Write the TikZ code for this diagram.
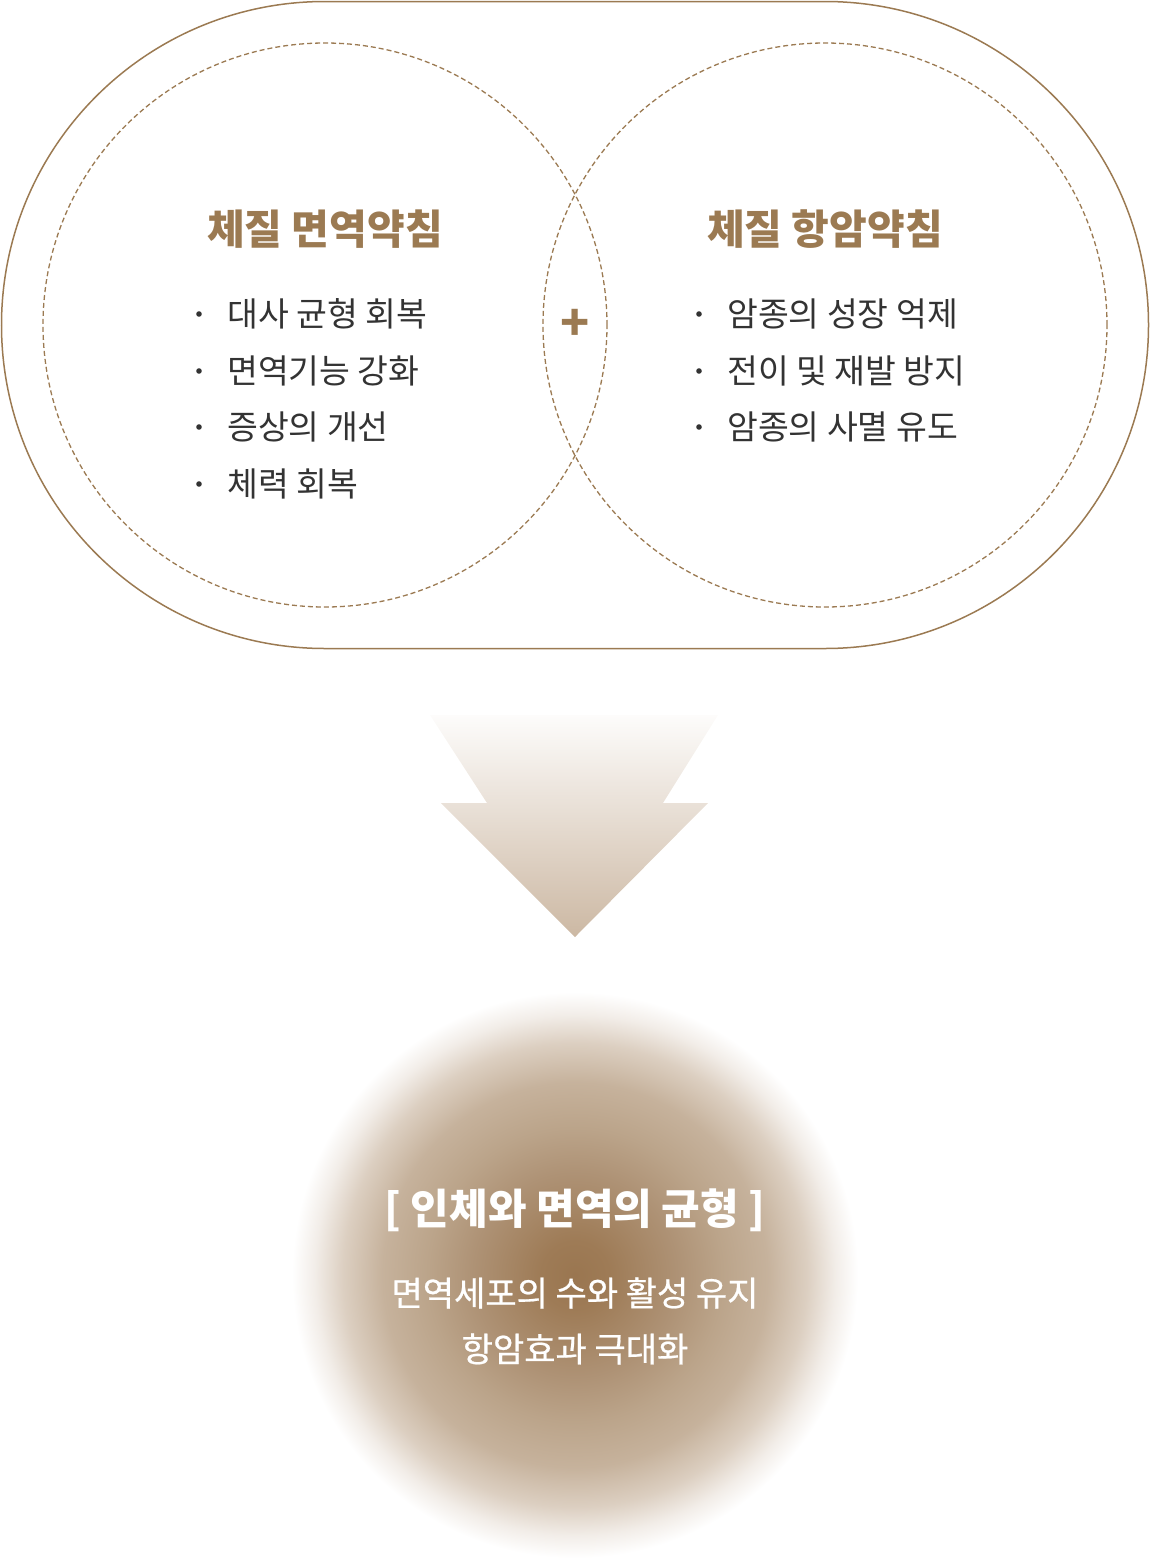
\documentclass[tikz,border=0pt]{standalone}
\usepackage{fontspec}
\setmainfont{Noto Sans CJK KR}
\newfontfamily\medfont[FakeBold=0.6]{Noto Sans CJK KR}
\usetikzlibrary{shapes.geometric}
\definecolor{brown1}{HTML}{9B7A52}
\definecolor{txtgray}{HTML}{333333}
\definecolor{arrtop}{HTML}{FDFCFB}
\definecolor{arrbot}{HTML}{CCB8A3}
\definecolor{glowA}{HTML}{9A7650}
\definecolor{glowB}{HTML}{9E7B56}
\definecolor{glowC}{HTML}{AE9275}
\definecolor{glowD}{HTML}{BBA48A}
\definecolor{glowE}{HTML}{C6B29C}
\definecolor{glowF}{HTML}{DCCFC1}
\definecolor{glowG}{HTML}{F2EDE8}
\pgfdeclareradialshading{glow}{\pgfpoint{0bp}{0bp}}{color(0bp)=(glowA); color(3bp)=(glowB); color(9bp)=(glowC); color(13bp)=(glowD); color(17bp)=(glowE); color(20.5bp)=(glowF); color(23bp)=(glowG); color(25bp)=(white); color(50bp)=(white)}
\tikzset{
  title/.style={font=\fontsize{41}{45}\selectfont\bfseries, text=brown1, inner sep=0pt},
  item/.style={font=\fontsize{33.5}{37}\selectfont, text=txtgray, anchor=west, inner sep=0pt},
  dot/.style={fill=txtgray, draw=none},
  dashcirc/.style={draw=brown1, line width=1.3pt, dash pattern=on 5pt off 3pt},
  wtitle/.style={font=\fontsize{42}{46}\selectfont\bfseries, text=white, inner sep=0pt},
  wline/.style={font=\fontsize{34}{38}\selectfont\medfont, text=white, inner sep=0pt},
}
\begin{document}
\begin{tikzpicture}[x=1pt,y=-1pt]
\useasboundingbox (0,0) rectangle (1150,1558);
% outer stadium
\draw[brown1, line width=1.5pt, rounded corners=323.5pt] (1.5,1.5) rectangle (1148.5,648.5);
% dashed circles
\draw[dashcirc] (325,325) circle (282pt);
\draw[dashcirc] (825,325) circle (282pt);
% plus
\node[font=\fontsize{48}{52}\selectfont\bfseries, text=brown1, inner sep=0pt] (plus) at (575,325) {+};
% titles
\node[title] (t1) at (325,229) {체질 면역약침};
\node[title] (t2) at (825,229) {체질 항암약침};
% left items
\foreach \i/\y/\t in {1/314/대사 균형 회복, 2/371/면역기능 강화, 3/427/증상의 개선, 4/484/체력 회복}{
  \fill[dot] (199,\y) circle (2.8pt);
  \node[item] (l\i) at (227,\y) {\t};
}
% right items
\foreach \i/\y/\t in {1/314/암종의 성장 억제, 2/371/전이 및 재발 방지, 3/427/암종의 사멸 유도}{
  \fill[dot] (699,\y) circle (2.8pt);
  \node[item] (r\i) at (727,\y) {\t};
}
% arrow
\shade[top color=arrtop, bottom color=arrbot] (430,715) -- (718,715) -- (663,803) -- (708,803) -- (575,937) -- (441,803) -- (487,803) -- cycle;
% glow circle
\shade[shading=glow] (575,1275) circle (283pt);
% bottom texts
\node[wtitle] (b1) at (575,1210) {[ 인체와 면역의 균형 ]};
\node[wline] (b2) at (575,1293) {면역세포의 수와 활성 유지};
\node[wline] (b3) at (575,1349) {항암효과 극대화};
\end{tikzpicture}
\end{document}
